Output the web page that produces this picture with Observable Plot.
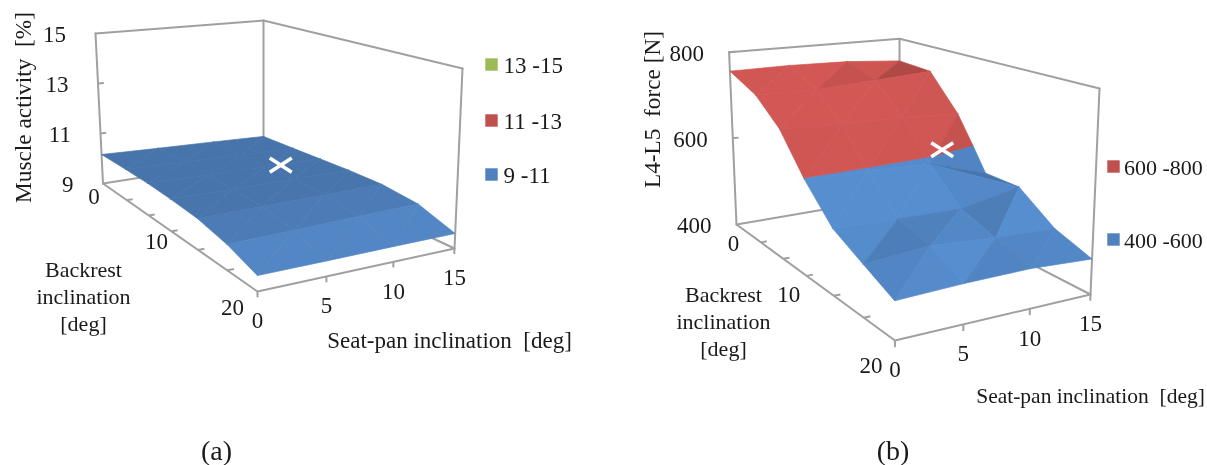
<!DOCTYPE html>
<html>
<head>
<meta charset="utf-8">
<script src="https://cdn.jsdelivr.net/npm/d3@7"></script>
<script src="https://cdn.jsdelivr.net/npm/@observablehq/plot@0.6"></script>
<style>html,body{margin:0;padding:0;background:#fff}svg{display:block}</style>
</head>
<body>
<div id="chart"></div>
<script>
// ---- data ----
const seatLevels = [0, 5, 10, 15];
const backLevels = [0, 3.3, 6.7, 10, 13.3, 16.7, 20];
// rows: backrest level, columns: seat level
const muscleActivity = [
  [10.16, 10.09, 10.03, 9.96],
  [10.18, 10.12, 10.06, 10.00],
  [10.18, 10.13, 10.09, 10.04],
  [10.14, 10.12, 10.10, 10.08],
  [10.06, 10.07, 10.07, 10.08],
  [9.84, 9.87, 9.91, 9.94],
  [9.49, 9.49, 9.50, 9.50]
];
const l4l5Force = [
  [756, 757, 754, 744],
  [727, 724, 732, 740],
  [677, 670, 668, 660],
  [598, 595, 589, 549],
  [532, 528, 525, 549],
  [500, 510, 500, 495],
  [471, 475, 476, 469]
];
const muscleBands = [9, 11, 13, 15];
const forceBands = [400, 600, 800];
const muscleOptimum = {seat: 11.8, back: 6, value: 9.92};
const forceOptimum = {seat: 13, back: 7.5, value: 590};

// ---- layout ----
const bandColors = ["#4f81bd", "#c0504d", "#9bbb59"];
const seatFrac = d3.scaleLinear().domain(seatLevels).range([0, .35, .69, 1]);
const backFrac = d3.scaleLinear().domain(backLevels).range([0, .154, .296, .443, .615, .804, 1]);
const panels = [
  {
    rows: muscleActivity, bands: muscleBands, optimum: muscleOptimum, smooth: true,
    vTicks: [11, 13], vLabels: [15, 13, 11, 9], vLabelDx: -29.5,
    floor: [[102.5,183],[263,158],[257,291],[454,248]],
    top:   [[95,33],[263,20],[256,96],[462,68]],
    seatDy: 28, backOff: {0:[-9,12], 10:[-15,9], 20:[-25,15]},
    yTitle: {text: "Muscle activity  [%]", x: 21, y: 107, size: 23.3},
    backTitle: {x: 83, y: 295},
    seatTitle: {x: 449, y: 339, size: 23},
    legend: {x: 491, ys: [174, 120, 64], tx: 503, size: 23},
    caption: {text: "(a)", x: 216, y: 449}
  },
  {
    rows: l4l5Force, bands: forceBands, optimum: forceOptimum, smooth: false,
    vTicks: [600, 800], vLabels: [800, 600, 400], vLabelDx: -25,
    floor: [[736,224],[899,196],[894.4,340],[1090,294]],
    top:   [[728.6,51.7],[899,38.3],[893,116],[1099,88]],
    seatDy: 28, backOff: {0:[-3,18], 10:[-18,17], 20:[-24,24]},
    yTitle: {text: "L4-L5  force [N]", x: 650, y: 109, size: 23.3},
    backTitle: {x: 723, y: 320},
    seatTitle: {x: 1090, y: 394, size: 21.5},
    legend: {x: 1113, ys: [239, 166], tx: 1123.5, size: 22},
    caption: {text: "(b)", x: 892.5, y: 449}
  }
];
const light = [.2, .6, .77];

// ---- projection of the 3-D box onto the page ----
function bil(c, u, f) {
  return [0, 1].map(i =>
    (c[0][i] * (1 - u) + c[1][i] * u) * (1 - f) + (c[2][i] * (1 - u) + c[3][i] * u) * f);
}
function projector(p) {
  const lo = p.bands[0], hi = p.bands[p.bands.length - 1];
  const w = v => (v - lo) / (hi - lo);
  const raw = (u, f, t) => {
    const a = bil(p.floor, u, f), b = bil(p.top, u, f);
    return [a[0] + (b[0] - a[0]) * t, a[1] + (b[1] - a[1]) * t];
  };
  return {w, raw, at: (s, b, v) => raw(seatFrac(s), backFrac(b), w(v))};
}
function shadeColor(hex, m) {
  const c = d3.rgb(hex);
  return d3.rgb(Math.min(255, c.r * m), Math.min(255, c.g * m), Math.min(255, c.b * m)).formatHex();
}
function lightness(tri) {
  const e1 = [0,1,2].map(k => tri[1][k] - tri[0][k]);
  const e2 = [0,1,2].map(k => tri[2][k] - tri[0][k]);
  let n = [e1[1]*e2[2]-e1[2]*e2[1], e1[2]*e2[0]-e1[0]*e2[2], e1[0]*e2[1]-e1[1]*e2[0]];
  if (n[2] < 0) n = n.map(q => -q);
  const len = Math.hypot(...n);
  const e = d3.sum(n, (q, k) => q / len * light[k]) - light[2];
  return Math.max(.9, Math.min(1.1, .9 + .4 * e + 3.5 * e * Math.abs(e)));
}
function clipBand(tri, lo, hi) {
  // keep the part of a triangle between two values (w coordinate)
  const clip = (poly, keep, val) => {
    const out = [];
    poly.forEach((a, i) => {
      const b = poly[(i + 1) % poly.length];
      const ka = keep(a[2]), kb = keep(b[2]);
      if (ka) out.push(a);
      if (ka !== kb) {
        const t = (val - a[2]) / (b[2] - a[2]);
        out.push([a[0] + (b[0] - a[0]) * t, a[1] + (b[1] - a[1]) * t, val]);
      }
    });
    return out;
  };
  let poly = clip(tri, z => z >= lo, lo);
  if (poly.length) poly = clip(poly, z => z <= hi, hi);
  return poly;
}

const polys = [], lines = [], ticks = [], labels = [], legendSw = [], crosses = [];
let pid = 0;

panels.forEach((p, pi) => {
  const pr = projector(p);
  const lo = p.bands[0], hi = p.bands[p.bands.length - 1];
  const sMax = d3.max(seatLevels), bMax = d3.max(backLevels);

  // box frame
  const frame = [
    [[0,0,hi],[sMax,0,hi],[sMax,bMax,hi]],
    [[0,0,lo],[0,0,hi]],
    [[sMax,0,lo],[sMax,0,hi]],
    [[sMax,bMax,lo],[sMax,bMax,hi]],
    [[0,0,lo],[sMax,0,lo],[sMax,bMax,lo],[0,bMax,lo],[0,0,lo]]
  ];
  frame.forEach((seg, k) => seg.forEach(q => {
    const [x, y] = pr.at(...q);
    lines.push({x, y, id: `${pi}-${k}`});
  }));

  // ticks
  const tick = (a, b) => ticks.push({x1: a[0], y1: a[1], x2: b[0], y2: b[1]});
  p.vTicks.forEach(v => tick(pr.at(0, 0, v), pr.raw(.035, 0, pr.w(v))));
  backLevels.slice(1, -1).forEach(b => tick(pr.at(0, b, lo), pr.raw(.035, backFrac(b), 0)));
  seatLevels.forEach(s => tick(pr.at(s, bMax, lo), pr.raw(seatFrac(s), 1, -.03)));

  // surface: back to front, each grid cell in two triangles, split at the band limits
  const vtx = (j, i) => [seatFrac(seatLevels[i]), backFrac(backLevels[j]), pr.w(p.rows[j][i])];
  for (let j = 0; j < backLevels.length - 1; j++) {
    // for the smooth panel one shade per backrest row, from the mean of its facets
    const rowShades = [];
    for (let i = 0; i < seatLevels.length - 1; i++) {
      const a = vtx(j, i), b = vtx(j, i + 1), c = vtx(j + 1, i), d = vtx(j + 1, i + 1);
      rowShades.push(lightness([a, b, c]), lightness([b, d, c]));
    }
    const rowShade = d3.mean(rowShades);
    for (let i = seatLevels.length - 2; i >= 0; i--) {
      const a = vtx(j, i), b = vtx(j, i + 1), c = vtx(j + 1, i), d = vtx(j + 1, i + 1);
      const swapDiag = pi === 1 && j === 3 && i === 2;
      const tris = swapDiag ? [[a, b, d], [a, d, c]] : [[a, b, c], [b, d, c]];
      tris.forEach(tri => {
        const m = p.smooth ? rowShade : lightness(tri);
        for (let bi = 0; bi < p.bands.length - 1; bi++) {
          const poly = clipBand(tri, pr.w(p.bands[bi]), pr.w(p.bands[bi + 1]));
          if (poly.length < 3) continue;
          const col = shadeColor(bandColors[bi], m);
          pid++;
          [...poly, poly[0]].forEach(q => {
            const [x, y] = pr.raw(q[0], q[1], q[2]);
            polys.push({x, y, id: pid, col});
          });
        }
      });
    }
  }

  // value tick labels
  p.vLabels.forEach(v => {
    const [x, y] = pr.at(0, 0, v);
    labels.push({x: x + p.vLabelDx, y, text: String(v), size: 23, anchor: "end"});
  });
  // backrest tick labels
  [0, 10, 20].forEach(b => {
    const [x, y] = pr.at(0, b, lo);
    labels.push({x: x + p.backOff[b][0], y: y + p.backOff[b][1], text: String(b), size: 23});
  });
  // seat tick labels
  seatLevels.forEach(s => {
    const [x, y] = pr.at(s, bMax, lo);
    labels.push({x, y: y + p.seatDy, text: String(s), size: 23});
  });
  labels.push({...p.backTitle, text: "Backrest\ninclination\n[deg]", size: 22});
  labels.push({...p.seatTitle, text: "Seat-pan inclination  [deg]"});
  labels.push({...p.yTitle, rotate: -90});
  labels.push({...p.caption, size: 28});

  // legend
  p.legend.ys.forEach((y, k) => {
    legendSw.push({x: p.legend.x, y, col: bandColors[k]});
    labels.push({x: p.legend.tx, y, text: `${p.bands[k]} -${p.bands[k + 1]}`, size: p.legend.size, anchor: "start"});
  });

  const [cx, cy] = pr.at(p.optimum.seat, p.optimum.back, p.optimum.value);
  crosses.push({x: cx, y: cy});
});

const crossSymbol = {
  draw(ctx, size) {
    const r = Math.sqrt(size);
    ctx.moveTo(-r * 1.55, -r); ctx.lineTo(r * 1.55, r);
    ctx.moveTo(r * 1.55, -r); ctx.lineTo(-r * 1.55, r);
  }
};
const squareSymbol = {
  draw(ctx, size) { const r = Math.sqrt(size) ; ctx.rect(-r, -r, 2 * r, 2 * r); }
};

const textMarks = d3.groups(labels, d => `${d.anchor || "middle"}|${d.rotate || 0}|${d.size}`).map(([key, rows]) => {
  const [anchor, rot, size] = key.split("|");
  return Plot.text(rows, {x: "x", y: "y", text: "text", fontSize: +size, rotate: +rot,
    textAnchor: anchor, lineHeight: 1.22, fill: "#1a1a1a"});
});

const chart = Plot.plot({
  width: 1207, height: 465,
  marginTop: 0, marginRight: 0, marginBottom: 0, marginLeft: 0,
  x: {domain: [0, 1207], range: [0, 1207], axis: null},
  y: {domain: [0, 465], range: [0, 465], axis: null},
  color: {type: "identity"},
  style: {fontFamily: "'Liberation Serif', serif", background: "#fff", filter: "blur(0.45px)"},
  marks: [
    Plot.line(lines, {x: "x", y: "y", z: "id", stroke: "#a0a0a0", strokeWidth: 2}),
    Plot.link(ticks, {x1: "x1", y1: "y1", x2: "x2", y2: "y2", stroke: "#a0a0a0", strokeWidth: 2}),
    Plot.line(polys, {x: "x", y: "y", z: "id", fill: "col", stroke: "col", strokeWidth: .7}),
    Plot.dot(crosses, {x: "x", y: "y", symbol: crossSymbol, r: 4, stroke: "#fff", strokeWidth: 3.6, fill: "none"}),
    Plot.dot(legendSw, {x: "x", y: "y", symbol: squareSymbol, r: 3.5, fill: "col", stroke: "none"}),
    ...textMarks
  ]
});
document.getElementById("chart").append(chart);
</script>
</body>
</html>
